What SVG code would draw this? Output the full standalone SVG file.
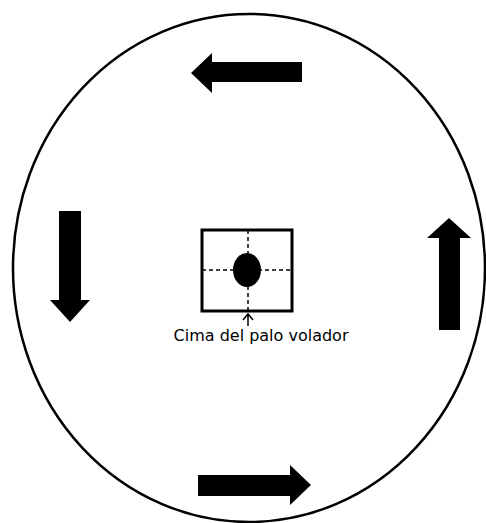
<svg xmlns="http://www.w3.org/2000/svg" width="486" height="523" viewBox="0 0 486 523">
<defs>
<style>
.arr{fill:#000;stroke:none}
.dash{stroke:#000;stroke-width:1.5;stroke-dasharray:4,3;fill:none}
.lbl{font-family:"DejaVu Sans","Open Sans",sans-serif;font-size:16px;fill:#000}
</style>
</defs>
<rect width="486" height="523" fill="#fff"/>
<g id="outer">
<ellipse cx="249" cy="268" rx="236" ry="254" fill="none" stroke="#000" stroke-width="2.5"/>
</g>
<g id="arrows">
<polygon id="arrow-top" class="arr" points="302,62 212,62 212,53 191,73 212,93 212,82 302,82"/>
<polygon id="arrow-left" class="arr" points="59,211 81,211 81,300 90,300 70,322 50,300 59,300"/>
<polygon id="arrow-right" class="arr" points="439,330 460,330 460,238 471,238 449,218 427,238 439,238"/>
<polygon id="arrow-bottom" class="arr" points="198,475 290,475 290,465 311,485 290,505 290,496 198,496"/>
</g>
<g id="box">
<line class="dash" x1="248" y1="230" x2="248" y2="311"/>
<line class="dash" x1="202" y1="270" x2="292" y2="270"/>
<rect x="202" y="230" width="90" height="81" fill="none" stroke="#000" stroke-width="3"/>
<ellipse cx="247" cy="270" rx="14" ry="17" fill="#000"/>
</g>
<g id="pointer">
<path d="M248,326 V314 M243,320 L248,314 L253,320" fill="none" stroke="#000" stroke-width="1.5"/>
</g>
<g id="label">
<text class="lbl" x="261" y="341" text-anchor="middle">Cima del palo volador</text>
</g>
</svg>
